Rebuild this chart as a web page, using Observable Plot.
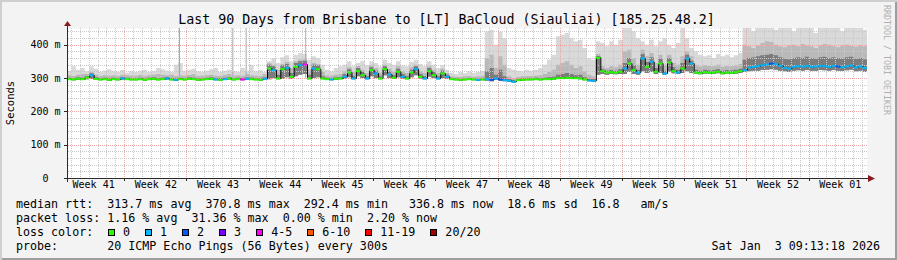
<!DOCTYPE html>
<html><head><meta charset="utf-8">
<script src="https://cdn.jsdelivr.net/npm/d3@7"></script>
<script src="https://cdn.jsdelivr.net/npm/@observablehq/plot@0.6"></script>
<style>
html,body{margin:0;padding:0;background:#f3f3f3;}
#chart{position:relative;width:897px;height:260px;background:#f3f3f3;overflow:hidden;font-family:"DejaVu Sans Mono",monospace;color:#000;box-shadow:inset 2px 2px 0 #cfcfcf, inset -2px -2px 0 #9e9e9e;}
#chart svg{position:absolute;left:0;top:0;}
.title{position:absolute;left:-2px;width:897px;top:12px;text-align:center;font-size:13.3px;line-height:16px;white-space:pre;}
.row{position:absolute;left:16px;font-size:11.67px;line-height:14px;white-space:pre;}
.items{position:absolute;left:108px;display:flex;align-items:center;font-size:11.67px;line-height:14px;white-space:pre;}
.box{display:inline-block;width:7px;height:7px;box-sizing:border-box;border:1px solid #000;margin-right:8px;}
.lbl{margin-right:15px;}
.date{position:absolute;right:17px;font-size:11.67px;line-height:14px;white-space:pre;}
.credit{position:absolute;left:882px;top:5px;writing-mode:vertical-rl;font-size:8.3px;line-height:10px;color:#b0b0b0;white-space:pre;}
</style></head>
<body><div id="chart"></div>
<script>
// ---------- data ----------
const title = "Last 90 Days from Brisbane to [LT] BaCloud (Siauliai) [185.25.48.2]";
const weekLabels = ["Week 41","Week 42","Week 43","Week 44","Week 45","Week 46","Week 47","Week 48","Week 49","Week 50","Week 51","Week 52","Week 01"];
const yTicks = [0, 100, 200, 300, 400];
const yTickLabels = ["0\u00a0\u00a0", "100 m", "200 m", "300 m", "400 m"];

// half-day bins over the 90-day window, values in ms
const median = [
 298,297,299,298,303,310,299,297,298,296,298,297,300,298,297,
 297,298,296,298,299,297,298,300,297,296,298,297,299,298,296,
 297,298,299,297,296,298,300,297,298,297,299,298,297,296,299,
 330,325,300,328,332,305,335,340,342,300,330,328,300,
 298,297,299,300,
 305,318,300,322,310,300,325,315,300,328,312,302,320,305,300,318,328,305,300,322,310,300,315,305,
 298,297,296,297,298,297,296,297,
 298,296,300,297,295,
 293,290,295,296,297,
 297,298,297,298,298,299,
 301,301,302,301,301,300,297,294,
 293,
 362,
 322,318,319,317,320,
 330,345,325,318,360,335,350,320,345,315,348,322,318,330,360,
 345,318,316,319,317,318,320,316,318,317,319,322,
 325,333,335,337,340,342,345,343,338,332,330,335,337,336,338,335,336,338,337,335,338,336,334,337,339,333,336,332
];
// upper edge of the smoke (max ping)
const smokeHi = [
 322,335,325,330,320,335,328,318,322,326,320,318,324,316,320,
 318,322,325,318,320,330,326,322,318,340,345,322,325,328,320,
 318,322,326,330,318,322,325,320,318,330,322,340,320,324,318,
 350,360,345,362,368,350,370,375,372,355,365,360,340,
 325,320,330,335,
 340,350,335,345,352,338,350,345,335,355,345,340,350,338,335,348,355,342,335,350,340,330,338,325,
 315,312,318,315,320,316,318,322,
 440,445,400,438,420,
 330,325,322,320,325,
 322,325,330,340,355,370,
 425,430,435,420,410,415,390,360,
 355,
 410,
 405,395,410,400,415,
 460,460,440,420,410,400,415,395,410,420,400,390,405,460,420,
 390,380,370,365,368,360,372,365,370,362,368,375,
 460,460,440,460,460,460,460,445,460,460,460,440,460,460,460,460,435,460,460,460,460,460,440,460,460,460,460,445
];
// upper edge of the denser smoke band
const smokeMid = [
 308,306,310,312,312,318,310,306,308,307,308,306,310,308,307,
 307,309,306,308,310,312,310,308,310,306,308,307,309,312,306,
 307,308,310,307,306,309,312,307,308,307,312,308,307,306,312,
 345,340,325,342,348,330,350,355,356,325,345,342,318,
 308,307,310,312,
 320,332,318,336,325,315,338,330,316,340,328,318,335,320,315,332,340,320,315,335,325,315,328,315,
 305,304,303,305,306,304,305,306,
 360,370,330,365,340,
 305,300,303,305,306,
 306,307,308,312,318,325,
 340,345,350,340,330,335,320,310,
 305,
 372,
 335,330,335,332,340,
 380,385,360,340,385,365,375,345,370,340,370,345,340,365,380,
 365,340,335,338,336,335,340,334,336,335,338,342,
 400,395,390,398,405,410,408,400,395,392,398,400,395,402,398,395,390,398,402,400,395,392,398,400,396,394,398,395
];
// upper edge of the darkest smoke around the median
const smokeCore = [
 301,300,302,301,306,314,302,300,301,299,301,300,303,301,300,
 300,301,299,301,302,300,301,303,300,299,301,300,302,301,299,
 300,301,302,300,299,301,303,300,301,300,302,301,300,299,302,
 340,335,310,338,342,315,345,350,352,310,340,338,305,
 301,300,302,303,
 312,326,306,330,318,305,332,322,305,335,320,308,328,312,305,325,335,312,305,330,318,305,322,310,
 300,299,298,299,300,299,298,299,
 320,330,310,325,305,
 297,294,298,299,300,
 300,301,300,301,302,304,
 310,312,315,312,308,310,302,298,
 297,
 366,
 326,322,324,322,326,
 345,360,338,325,372,348,362,330,358,322,360,332,325,345,370,
 352,325,322,325,323,324,326,322,324,323,325,328,
 355,360,362,365,368,370,372,368,362,358,356,360,362,360,364,360,358,362,364,360,362,360,358,362,364,358,360,356
];
// lower edge of the smoke (min ping)
const smokeLo = [
 294,293,295,294,296,297,294,293,294,292,294,293,295,294,293,
 293,294,292,294,295,293,294,295,293,292,294,293,295,294,292,
 293,294,295,293,292,294,295,293,294,293,295,294,293,292,295,
 296,300,296,298,302,298,305,310,312,296,300,302,296,
 294,293,295,296,
 298,302,296,305,300,296,305,300,296,308,300,297,302,298,296,302,308,298,296,304,300,296,300,298,
 294,293,292,293,294,293,292,293,
 292,290,294,291,290,
 289,287,291,292,293,
 293,294,293,294,294,295,
 297,297,298,297,297,296,293,290,
 289,
 310,
 312,310,312,311,312,
 312,318,312,310,320,315,318,312,316,310,318,314,312,315,320,
 315,312,311,313,312,312,314,311,312,312,313,315,
 318,320,322,322,324,325,326,325,322,320,318,322,323,322,324,322,322,324,323,322,324,322,321,323,325,320,322,319
];
// loss class index into lossLabels
const lossClass = [
 0,0,0,0,0,1,0,0,0,0,0,0,1,0,0,
 0,0,0,0,0,0,0,1,0,1,0,0,0,0,0,
 0,0,0,1,0,1,0,0,0,4,1,0,0,0,1,
 0,1,0,0,1,0,0,1,4,0,1,0,0,
 0,1,0,0,
 1,0,1,0,0,1,0,1,0,0,1,0,0,1,0,0,1,0,1,0,0,1,0,1,
 0,0,0,0,0,0,1,0,
 1,2,1,2,1,
 1,1,0,0,0,
 0,0,0,0,0,0,
 0,0,0,0,0,0,0,1,
 1,
 0,
 0,0,0,0,0,
 1,0,0,1,1,0,1,0,0,1,0,0,1,0,1,
 1,0,0,0,0,0,0,0,0,0,0,0,
 1,1,1,1,1,1,2,1,1,1,1,1,1,1,1,1,1,1,1,1,1,2,1,1,1,1,1,1
];
// isolated tall single-sample outliers (day, ms)
const spikeDays = [12.6, 18.6, 20.1, 26.8];
const spikeTops = [460, 460, 460, 460];

const lossLabels = ["0","1","2","3","4-5","6-10","11-19","20/20"];
const lossColors = ["#26ff00","#00b8ff","#0059ff","#7e00ff","#ff00ff","#ff5500","#ff0000","#a10000"];

const medianRttValues = [313.7, 370.8, 292.4, 336.8];
const medianRttNames = ["avg","max","min","now"];
const medianRttSd = 18.6;
const medianRttAmS = 16.8;
const packetLossValues = [1.16, 31.36, 0.00, 2.20];
const probeText = "20 ICMP Echo Pings (56 Bytes) every 300s";
const timestamp = "Sat Jan  3 09:13:18 2026";
const credit = "RRDTOOL / TOBI OETIKER";

// ---------- layout ----------
const DAYS = 90, BIN = 0.5;
const firstWeekStart = 6.44; // days from window start to first Monday
for (const a of [smokeHi, smokeMid, smokeCore, smokeLo, lossClass]) if (a.length !== median.length) throw new Error("length mismatch " + a.length + " vs " + median.length);
if (median.length !== DAYS / BIN) throw new Error("median length " + median.length);

const bins = median.map((m, i) => ({x0: i * BIN, x1: (i + 1) * BIN, xc: (i + 0.5) * BIN, median: m, hi: smokeHi[i], mid: smokeMid[i], core: smokeCore[i], lo: smokeLo[i], loss: lossClass[i]}));
const stepData = [...bins, {...bins[bins.length - 1], x0: DAYS}];
const spikes = spikeDays.map((d, i) => ({day: d, top: spikeTops[i], base: 300}));
const weekStarts = d3.range(1, weekLabels.length).map(k => firstWeekStart + 7 * (k - 1));
const weekCenters = weekLabels.map((_, k) => firstWeekStart + 7 * (k - 1) + 3.5);
const dayLines = d3.range(firstWeekStart % 1, DAYS, 1).filter(d => !weekStarts.some(w => Math.abs(w - d) < 1e-6));
const minorY = d3.range(20, 450, 20).filter(v => v % 100 !== 0);
const majorY = yTicks.filter(v => v > 0);

const px = v => Math.round(v) + 0.5;
function frameOf(dims) {
  const {width, height, marginLeft: ml, marginRight: mr, marginTop: mt, marginBottom: mb} = dims;
  return {xL: ml, xR: width - mr, yB: height - mb, yT: mt};
}

function gridDecor(index, scales, values, dims) {
  const {xL, xR, yB, yT} = frameOf(dims);
  const g = d3.create("svg:g").attr("stroke-dasharray", "1,1").attr("shape-rendering", "crispEdges").attr("fill", "none");
  const h = (y, c) => g.append("line").attr("x1", xL + 1).attr("x2", xR).attr("y1", y).attr("y2", y).attr("stroke", c);
  const v = (x, c) => g.append("line").attr("x1", x).attr("x2", x).attr("y1", yT).attr("y2", yB).attr("stroke", c);
  for (const d of minorY) h(px(scales.y(d)), "#c8c8c8");
  for (const d of dayLines) v(px(scales.x(d)), "#c8c8c8");
  for (const d of majorY) h(px(scales.y(d)), "#f0a4a4");
  for (const d of weekStarts) v(px(scales.x(d)), "#f0a4a4");
  return g.node();
}

function axesDecor(index, scales, values, dims) {
  const {xL, xR, yB, yT} = frameOf(dims);
  const axisColor = "#2a2a2a", arrowColor = "#8b1c1c";
  const g = d3.create("svg:g");
  for (const d of weekStarts) {
    const x = px(scales.x(d));
    g.append("line").attr("x1", x).attr("x2", x).attr("y1", yB).attr("y2", yB + 3).attr("stroke", axisColor);
  }
  for (const v of yTicks) {
    const y = px(scales.y(v));
    g.append("line").attr("x1", xL - 3).attr("x2", xL).attr("y1", y).attr("y2", y).attr("stroke", axisColor);
  }
  g.append("line").attr("x1", xL - 3).attr("x2", xR + 2).attr("y1", yB + 0.5).attr("y2", yB + 0.5).attr("stroke", axisColor);
  g.append("line").attr("x1", xL + 0.5).attr("x2", xL + 0.5).attr("y1", yB + 4).attr("y2", yT - 2).attr("stroke", axisColor);
  g.append("path").attr("d", `M${xL - 3},${yT - 2}L${xL + 4},${yT - 2}L${xL + 0.5},${yT - 7}Z`).attr("fill", arrowColor);
  g.append("path").attr("d", `M${xR + 1},${yB - 3}L${xR + 1},${yB + 4}L${xR + 8},${yB + 0.5}Z`).attr("fill", arrowColor);
  g.append("text").attr("transform", `translate(10,${(yT + yB) / 2}) rotate(-90)`)
    .attr("text-anchor", "middle").attr("dominant-baseline", "central")
    .attr("font-family", "DejaVu Sans Mono").attr("font-size", 10.5).attr("fill", "#000").text("Seconds");
  return g.node();
}

const plot = Plot.plot({
  width: 897, height: 200,
  marginLeft: 67, marginRight: 30, marginTop: 28, marginBottom: 22,
  style: {background: "transparent", fontFamily: "DejaVu Sans Mono", fontSize: "10px", overflow: "visible", color: "#000"},
  x: {domain: [0, DAYS], axis: null},
  y: {domain: [0, 450], axis: null},
  marks: [
    Plot.frame({fill: "white", stroke: null}),
    Plot.areaY(stepData, {x: "x0", y1: "lo", y2: "hi", curve: "step-after", fill: "#d9d9d9", clip: true}),
    Plot.ruleX(spikes, {x: "day", y1: "base", y2: "top", stroke: "#a8a8a8", clip: true}),
    Plot.areaY(stepData, {x: "x0", y1: "lo", y2: "mid", curve: "step-after", fill: "#b9b9b9", clip: true}),
    Plot.areaY(stepData, {x: "x0", y1: "lo", y2: "core", curve: "step-after", fill: "#7c7c7c", clip: true}),
    gridDecor,
    Plot.line(bins, {x: "xc", y: "median", curve: "step", stroke: "#000", strokeWidth: 1}),
    Plot.ruleY(bins, {y: "median", x1: "x0", x2: "x1", stroke: d => lossColors[d.loss], strokeWidth: 2}),
    Plot.text(yTicks, {y: d => d, text: (d, i) => yTickLabels[i], frameAnchor: "left", dx: -7, textAnchor: "end", fontSize: 10}),
    Plot.text(weekLabels, {x: (d, i) => weekCenters[i], text: d => d, frameAnchor: "bottom", dy: 9, fontSize: 10}),
    axesDecor
  ]
});

const chart = document.getElementById("chart");
chart.appendChild(plot);

function addDiv(cls, text, top) {
  const el = document.createElement("div");
  el.className = cls;
  if (text != null) el.textContent = text;
  if (top != null) el.style.top = top + "px";
  chart.appendChild(el);
  return el;
}
addDiv("title", title);
const rtt = medianRttValues.map((v, i) => `${v.toFixed(1)} ms ${medianRttNames[i]}`);
addDiv("row", `median rtt:  ${rtt[0]}  ${rtt[1]}  ${rtt[2]}   ${rtt[3]}  ${medianRttSd.toFixed(1)} ms sd  ${medianRttAmS.toFixed(1)}   am/s`, 197);
const pl = packetLossValues.map((v, i) => `${v.toFixed(2)} % ${medianRttNames[i]}`);
addDiv("row", `packet loss: ${pl[0]}  ${pl[1]}  ${pl[2]}  ${pl[3]}`, 211);
addDiv("row", "loss color:", 225);
const items = addDiv("items", null, 225);
lossLabels.forEach((l, i) => {
  const b = document.createElement("span"); b.className = "box"; b.style.background = lossColors[i]; items.appendChild(b);
  const t = document.createElement("span"); t.className = "lbl"; t.textContent = l; items.appendChild(t);
});
addDiv("row", `probe:       ${probeText}`, 239);
addDiv("date", timestamp, 239);
addDiv("credit", credit);
</script>
</body></html>
